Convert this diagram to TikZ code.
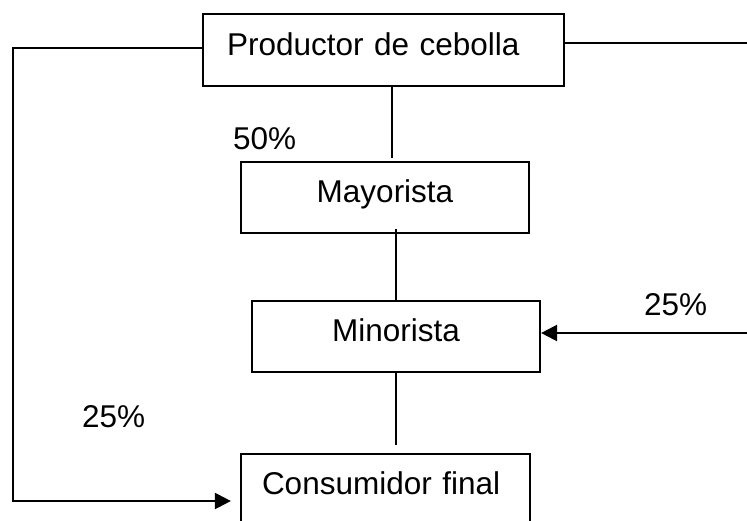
\documentclass[tikz,border=0pt]{standalone}
\usepackage{fontspec}
\setmainfont{Liberation Sans}
\usetikzlibrary{arrows.meta}

\begin{document}
\begin{tikzpicture}[x=1pt,y=-1pt,line width=2.2pt,
  box/.style={draw, minimum height=71pt, text height=22pt, text depth=12pt, inner sep=0pt},
  pct/.style={anchor=base west, inner sep=0pt},
  tip/.style={-{Triangle[length=16pt,width=16pt]}},
  font=\fontsize{31.5}{36}\selectfont]
\clip (0,0) rectangle (747,520);
\node[box, minimum width=361pt, minimum height=72pt, text width=313pt, inner xsep=24pt, align=left] (prod) at (383.5,50){Productor de cebolla};
\node[box, minimum width=288pt] (may) at (385,197.5){Mayorista};
\node[box, minimum width=288pt] (mino) at (396,336.5){Minorista};
\node[box, minimum width=289pt, text width=247pt, inner xsep=21pt, align=left] (cons) at (385.5,489.5){Consumidor final};
\draw ([xshift=8.5pt]prod.south) -- ([xshift=7pt,yshift=3pt]may.north);
\draw ([xshift=11pt,yshift=5pt]may.south) -- (mino.north);
\draw (mino.south) -- ([xshift=10.5pt,yshift=8pt]cons.north);
% salidas laterales
\coordinate (lft) at (13,501);
\coordinate (rgt1) at (747,43);
\coordinate (rgt2) at (747,333);
\draw[tip] ([yshift=2pt]prod.west) -| (lft) -- ([xshift=-9pt]cons.west |- lft);
\draw ([yshift=7pt]prod.east) -- (rgt1);
\draw[tip] (rgt2) -- (mino.east |- rgt2);
\node[pct] (pct50) at (232,149){50\%};
\node[pct] (pct25r) at (643,315){25\%};
\node[pct] (pct25l) at (81,427){25\%};
\end{tikzpicture}
\end{document}
